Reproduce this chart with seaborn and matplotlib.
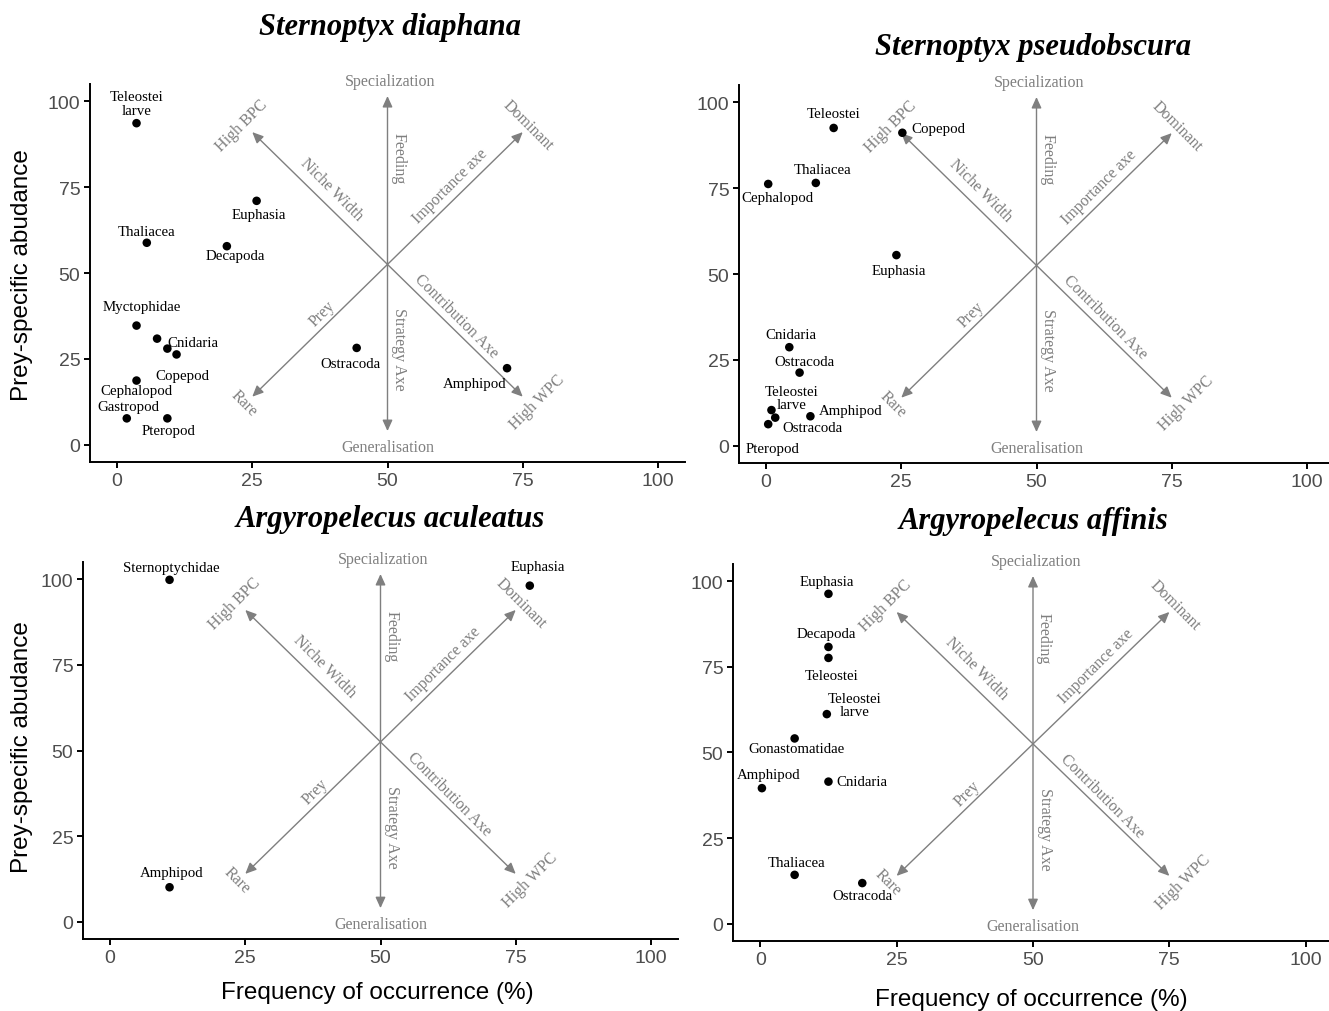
import numpy as np
import pandas as pd
import matplotlib
matplotlib.use("Agg")
import matplotlib.pyplot as plt
import seaborn as sns

# Sternoptyx diaphana
sd_prey = ["Teleostei\nlarve", "Euphasia", "Thaliacea", "Decapoda", "Myctophidae", "Cnidaria", "",
           "Copepod", "Cephalopod", "Gastropod", "Pteropod", "Ostracoda", "Amphipod"]
sd_freq = [3.6, 25.8, 5.5, 20.3, 3.6, 7.4, 9.3, 11.0, 3.6, 1.8, 9.3, 44.3, 72.1]
sd_abund = [93.6, 71.0, 58.8, 57.8, 34.7, 30.9, 28.0, 26.3, 18.7, 7.7, 7.7, 28.2, 22.3]

# Sternoptyx pseudobscura
sp_prey = ["Teleostei", "Copepod", "Thaliacea", "Cephalopod", "Euphasia", "Cnidaria", "Ostracoda",
           "Teleostei\nlarve", "Ostracoda", "Amphipod", "Pteropod"]
sp_freq = [12.5, 25.2, 9.2, 0.4, 24.1, 4.3, 6.2, 1.0, 1.7, 8.2, 0.4]
sp_abund = [92.5, 91.1, 76.5, 76.2, 55.5, 28.7, 21.3, 10.4, 8.2, 8.6, 6.3]

# Argyropelecus aculeatus
aa_prey = ["Sternoptychidae", "Euphasia", "Amphipod"]
aa_freq = [11.0, 77.6, 11.0]
aa_abund = [99.8, 98.1, 10.1]

# Argyropelecus affinis
af_prey = ["Euphasia", "Decapoda", "Teleostei", "Teleostei\nlarve", "Gonastomatidae", "Amphipod",
           "Cnidaria", "Thaliacea", "Ostracoda"]
af_freq = [12.5, 12.5, 12.5, 12.2, 6.3, 0.3, 12.5, 6.3, 18.7]
af_abund = [96.3, 80.8, 77.6, 61.2, 54.1, 39.6, 41.5, 14.3, 11.9]

# label offsets (points), like ggrepel placement
sd_off = [(0, 14), (1.5, -9.5), (0, 8.4), (6, -7), (4, 13.7), (26, -3), (0, 0), (4.5, -15),
          (0, -7.2), (1.4, 8.6), (0.7, -8.6), (-4.8, -11), (-23, -11)]
sp_off = [(0, 10.4), (25.6, 2.9), (4.5, 9.9), (6.5, -9.6), (1.9, -10.8), (1.2, 8.9), (3.4, 7.9),
          (14.4, 8.6), (27, -7.2), (28.8, 4.5), (3.2, -17.3)]
aa_off = [(1.2, 8.9), (5.8, 13.7), (1.2, 10.8)]
af_off = [(-1, 8.9), (-1.7, 9.8), (1.9, -13), (20, 6.5), (1.7, -7.5), (4.8, 9.8), (24.3, 0),
          (1.4, 8.6), (0, -9.1)]

# Amundsen diagram guide labels: text, x, y, rotation
guide_text = ["Specialization", "Generalisation", "Feeding", "Strategy Axe", "Importance axe",
              "Dominant", "Contribution Axe", "High WPC", "Niche Width", "High BPC", "Prey", "Rare"]
guide_x = [50.5, 50.0, 52.0, 52.2, 61.5, 76.0, 62.7, 77.6, 39.6, 23.0, 38.0, 23.4]
guide_y = [106.0, -0.5, 83.5, 28.0, 75.5, 93.0, 37.5, 12.5, 74.6, 93.0, 38.3, 12.2]
guide_rot = [0, 0, -90, -90, 45, -45, -45, 45, -45, 45, 45, -45]

W, H = 1329, 1012
SERIF = "Liberation Serif"
SANS = "Liberation Sans"
GREY = "#7f7f7f"


def px_axes(fig, left, top, right, bottom):
    return fig.add_axes([left / W, 1 - bottom / H, (right - left) / W, (bottom - top) / H])


def draw_panel(ax, prey, freq, abund, offsets):
    df = pd.DataFrame({"prey": prey, "freq": freq, "abund": abund})
    ax.set_xlim(-5, 105)
    ax.set_ylim(-5, 105)

    aprops = dict(arrowstyle="<|-|>,head_length=0.55,head_width=0.25", color=GREY,
                  lw=1.0, shrinkA=0, shrinkB=0, mutation_scale=12)
    ax.annotate("", xy=(50, 101.5), xytext=(50, 4), arrowprops=aprops)
    ax.annotate("", xy=(75, 91), xytext=(25, 14), arrowprops=aprops)
    ax.annotate("", xy=(75, 14), xytext=(25, 91), arrowprops=aprops)
    for t, gx, gy, r in zip(guide_text, guide_x, guide_y, guide_rot):
        ax.text(gx, gy, t, rotation=r, ha="center", va="center", color=GREY,
                fontsize=11.5, family=SERIF, rotation_mode="anchor")

    sns.scatterplot(data=df, x="freq", y="abund", ax=ax, color="black", s=38,
                    edgecolor="none", zorder=3, legend=False)
    for (_, row), (dx, dy) in zip(df.iterrows(), offsets):
        if row["prey"]:
            ax.annotate(row["prey"], (row["freq"], row["abund"]), xytext=(dx, dy),
                        textcoords="offset points", ha="center", va="center",
                        fontsize=10.7, family=SERIF, color="black", linespacing=1.05)

    ax.set_xticks([0, 25, 50, 75, 100])
    ax.set_yticks([0, 25, 50, 75, 100])
    ax.set_xlabel("")
    ax.set_ylabel("")
    sns.despine(ax=ax)
    for s in ["left", "bottom"]:
        ax.spines[s].set_linewidth(1.4)
        ax.spines[s].set_color("black")
    ax.tick_params(length=4, width=1.4, color="black", labelsize=14,
                   labelcolor="#4d4d4d", pad=3)
    for lab in ax.get_xticklabels() + ax.get_yticklabels():
        lab.set_family(SANS)
    ax.grid(False)


sns.set_theme(style="ticks")
plt.rcParams["font.family"] = [SANS, "DejaVu Sans"]
plt.rcParams["text.color"] = "black"

fig = plt.figure(figsize=(W / 100, H / 100), dpi=100)

ax1 = px_axes(fig, 90, 85, 685, 463)
draw_panel(ax1, sd_prey, sd_freq, sd_abund, sd_off)
ax2 = px_axes(fig, 739, 86, 1334, 464)
draw_panel(ax2, sp_prey, sp_freq, sp_abund, sp_off)
ax3 = px_axes(fig, 83, 563, 678, 940)
draw_panel(ax3, aa_prey, aa_freq, aa_abund, aa_off)
ax4 = px_axes(fig, 733, 565, 1333, 942)
draw_panel(ax4, af_prey, af_freq, af_abund, af_off)

titles = [("Sternoptyx diaphana", 390, 27), ("Sternoptyx pseudobscura", 1033, 47),
          ("Argyropelecus aculeatus", 390, 520), ("Argyropelecus affinis", 1033, 522)]
for t, x, y in titles:
    fig.text(x / W, 1 - y / H, t, ha="center", va="center", fontsize=22, color="black",
             family=SERIF, weight="bold", style="italic")

for y in [275, 747]:
    fig.text(22 / W, 1 - y / H, "Prey-specific abudance", rotation=90, ha="center",
             va="center", fontsize=17.5, family=SANS, color="black")
for x, y in [(377, 993), (1031, 1000)]:
    fig.text(x / W, 1 - y / H, "Frequency of occurrence (%)", ha="center", va="center",
             fontsize=17.5, family=SANS, color="black")

fig.savefig("out.png", dpi=100)
